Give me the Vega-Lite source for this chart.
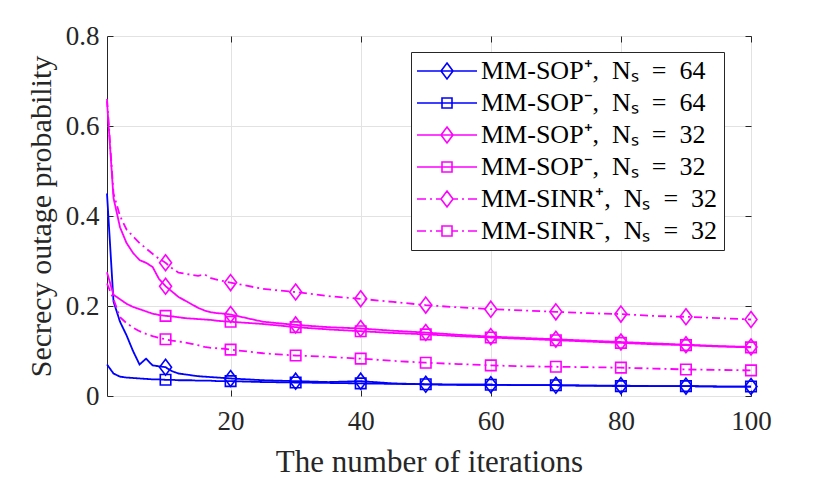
{
  "$schema": "https://vega.github.io/schema/vega-lite/v6.json",
  "width": 644,
  "height": 360,
  "autosize": "none",
  "padding": {"left": 107, "top": 36, "right": 79, "bottom": 83},
  "config": {
    "view": {"stroke": "#262626", "strokeWidth": 1},
    "font": "Liberation Serif",
    "axis": {
      "labelFont": "Liberation Serif",
      "labelFontSize": 27,
      "labelColor": "#262626",
      "titleFont": "Liberation Serif",
      "titleFontSize": 30,
      "titleFontWeight": "normal",
      "titleColor": "#262626",
      "gridColor": "#e2e2e2",
      "tickColor": "#262626",
      "tickSize": -6,
      "domain": false
    },
    "legend": {
      "orient": "none", "legendX": 304, "legendY": 16, "title": null,
      "labelFont": "Liberation Serif", "labelFontSize": 26, "labelColor": "black", "labelLimit": 400, "labelOffset": 38,
      "symbolSize": 400, "symbolStrokeWidth": 1.6, "rowPadding": 6, "padding": 6,
      "strokeColor": "#262626", "fillColor": "white"
    }
  },
  "data": {
    "values": [
      {"s":"SOP+64","i":1,"v":0.45},{"s":"SOP+64","i":2,"v":0.21},{"s":"SOP+64","i":3,"v":0.165},{"s":"SOP+64","i":4,"v":0.135},{"s":"SOP+64","i":5,"v":0.1},{"s":"SOP+64","i":6,"v":0.07},{"s":"SOP+64","i":7,"v":0.083},{"s":"SOP+64","i":8,"v":0.068},{"s":"SOP+64","i":9,"v":0.066},{"s":"SOP+64","i":10,"v":0.064},{"s":"SOP+64","i":11,"v":0.055},{"s":"SOP+64","i":12,"v":0.05},{"s":"SOP+64","i":13,"v":0.048},{"s":"SOP+64","i":14,"v":0.046},{"s":"SOP+64","i":15,"v":0.044},{"s":"SOP+64","i":16,"v":0.043},{"s":"SOP+64","i":17,"v":0.042},{"s":"SOP+64","i":18,"v":0.041},{"s":"SOP+64","i":19,"v":0.04},{"s":"SOP+64","i":20,"v":0.039},{"s":"SOP+64","i":25,"v":0.035},{"s":"SOP+64","i":30,"v":0.033},{"s":"SOP+64","i":35,"v":0.031},{"s":"SOP+64","i":40,"v":0.033},{"s":"SOP+64","i":45,"v":0.028},{"s":"SOP+64","i":50,"v":0.026},{"s":"SOP+64","i":55,"v":0.025},{"s":"SOP+64","i":60,"v":0.025},{"s":"SOP+64","i":65,"v":0.024},{"s":"SOP+64","i":70,"v":0.024},{"s":"SOP+64","i":75,"v":0.023},{"s":"SOP+64","i":80,"v":0.023},{"s":"SOP+64","i":85,"v":0.022},{"s":"SOP+64","i":90,"v":0.022},{"s":"SOP+64","i":95,"v":0.021},{"s":"SOP+64","i":100,"v":0.021},
      {"s":"SOP-64","i":1,"v":0.07},{"s":"SOP-64","i":2,"v":0.05},{"s":"SOP-64","i":3,"v":0.043},{"s":"SOP-64","i":4,"v":0.041},{"s":"SOP-64","i":5,"v":0.04},{"s":"SOP-64","i":6,"v":0.039},{"s":"SOP-64","i":7,"v":0.038},{"s":"SOP-64","i":8,"v":0.037},{"s":"SOP-64","i":9,"v":0.037},{"s":"SOP-64","i":10,"v":0.036},{"s":"SOP-64","i":11,"v":0.036},{"s":"SOP-64","i":12,"v":0.035},{"s":"SOP-64","i":13,"v":0.035},{"s":"SOP-64","i":14,"v":0.035},{"s":"SOP-64","i":15,"v":0.034},{"s":"SOP-64","i":16,"v":0.034},{"s":"SOP-64","i":17,"v":0.034},{"s":"SOP-64","i":18,"v":0.033},{"s":"SOP-64","i":19,"v":0.033},{"s":"SOP-64","i":20,"v":0.033},{"s":"SOP-64","i":25,"v":0.031},{"s":"SOP-64","i":30,"v":0.03},{"s":"SOP-64","i":35,"v":0.029},{"s":"SOP-64","i":40,"v":0.028},{"s":"SOP-64","i":45,"v":0.027},{"s":"SOP-64","i":50,"v":0.026},{"s":"SOP-64","i":55,"v":0.025},{"s":"SOP-64","i":60,"v":0.025},{"s":"SOP-64","i":65,"v":0.024},{"s":"SOP-64","i":70,"v":0.024},{"s":"SOP-64","i":75,"v":0.023},{"s":"SOP-64","i":80,"v":0.022},{"s":"SOP-64","i":85,"v":0.022},{"s":"SOP-64","i":90,"v":0.022},{"s":"SOP-64","i":95,"v":0.021},{"s":"SOP-64","i":100,"v":0.021},
      {"s":"SOP+32","i":1,"v":0.655},{"s":"SOP+32","i":2,"v":0.44},{"s":"SOP+32","i":3,"v":0.375},{"s":"SOP+32","i":4,"v":0.34},{"s":"SOP+32","i":5,"v":0.318},{"s":"SOP+32","i":6,"v":0.302},{"s":"SOP+32","i":7,"v":0.296},{"s":"SOP+32","i":8,"v":0.287},{"s":"SOP+32","i":9,"v":0.26},{"s":"SOP+32","i":10,"v":0.244},{"s":"SOP+32","i":11,"v":0.232},{"s":"SOP+32","i":12,"v":0.22},{"s":"SOP+32","i":13,"v":0.212},{"s":"SOP+32","i":14,"v":0.204},{"s":"SOP+32","i":15,"v":0.196},{"s":"SOP+32","i":16,"v":0.19},{"s":"SOP+32","i":17,"v":0.186},{"s":"SOP+32","i":18,"v":0.184},{"s":"SOP+32","i":19,"v":0.183},{"s":"SOP+32","i":20,"v":0.181},{"s":"SOP+32","i":25,"v":0.165},{"s":"SOP+32","i":30,"v":0.158},{"s":"SOP+32","i":35,"v":0.153},{"s":"SOP+32","i":40,"v":0.15},{"s":"SOP+32","i":45,"v":0.145},{"s":"SOP+32","i":50,"v":0.141},{"s":"SOP+32","i":55,"v":0.136},{"s":"SOP+32","i":60,"v":0.132},{"s":"SOP+32","i":65,"v":0.129},{"s":"SOP+32","i":70,"v":0.126},{"s":"SOP+32","i":75,"v":0.123},{"s":"SOP+32","i":80,"v":0.12},{"s":"SOP+32","i":85,"v":0.117},{"s":"SOP+32","i":90,"v":0.114},{"s":"SOP+32","i":95,"v":0.111},{"s":"SOP+32","i":100,"v":0.109},
      {"s":"SOP-32","i":1,"v":0.275},{"s":"SOP-32","i":2,"v":0.225},{"s":"SOP-32","i":3,"v":0.215},{"s":"SOP-32","i":4,"v":0.205},{"s":"SOP-32","i":5,"v":0.198},{"s":"SOP-32","i":6,"v":0.193},{"s":"SOP-32","i":7,"v":0.188},{"s":"SOP-32","i":8,"v":0.183},{"s":"SOP-32","i":9,"v":0.18},{"s":"SOP-32","i":10,"v":0.178},{"s":"SOP-32","i":11,"v":0.177},{"s":"SOP-32","i":12,"v":0.175},{"s":"SOP-32","i":13,"v":0.173},{"s":"SOP-32","i":14,"v":0.172},{"s":"SOP-32","i":15,"v":0.171},{"s":"SOP-32","i":16,"v":0.17},{"s":"SOP-32","i":17,"v":0.169},{"s":"SOP-32","i":18,"v":0.167},{"s":"SOP-32","i":19,"v":0.166},{"s":"SOP-32","i":20,"v":0.165},{"s":"SOP-32","i":25,"v":0.16},{"s":"SOP-32","i":30,"v":0.153},{"s":"SOP-32","i":35,"v":0.148},{"s":"SOP-32","i":40,"v":0.144},{"s":"SOP-32","i":45,"v":0.14},{"s":"SOP-32","i":50,"v":0.137},{"s":"SOP-32","i":55,"v":0.133},{"s":"SOP-32","i":60,"v":0.13},{"s":"SOP-32","i":65,"v":0.127},{"s":"SOP-32","i":70,"v":0.124},{"s":"SOP-32","i":75,"v":0.121},{"s":"SOP-32","i":80,"v":0.118},{"s":"SOP-32","i":85,"v":0.115},{"s":"SOP-32","i":90,"v":0.113},{"s":"SOP-32","i":95,"v":0.11},{"s":"SOP-32","i":100,"v":0.108},
      {"s":"SINR+32","i":1,"v":0.66},{"s":"SINR+32","i":2,"v":0.45},{"s":"SINR+32","i":3,"v":0.4},{"s":"SINR+32","i":4,"v":0.37},{"s":"SINR+32","i":5,"v":0.355},{"s":"SINR+32","i":6,"v":0.34},{"s":"SINR+32","i":7,"v":0.328},{"s":"SINR+32","i":8,"v":0.316},{"s":"SINR+32","i":9,"v":0.305},{"s":"SINR+32","i":10,"v":0.296},{"s":"SINR+32","i":11,"v":0.284},{"s":"SINR+32","i":12,"v":0.274},{"s":"SINR+32","i":13,"v":0.272},{"s":"SINR+32","i":14,"v":0.269},{"s":"SINR+32","i":15,"v":0.267},{"s":"SINR+32","i":16,"v":0.27},{"s":"SINR+32","i":17,"v":0.262},{"s":"SINR+32","i":18,"v":0.258},{"s":"SINR+32","i":19,"v":0.255},{"s":"SINR+32","i":20,"v":0.252},{"s":"SINR+32","i":25,"v":0.238},{"s":"SINR+32","i":30,"v":0.231},{"s":"SINR+32","i":35,"v":0.222},{"s":"SINR+32","i":40,"v":0.216},{"s":"SINR+32","i":45,"v":0.209},{"s":"SINR+32","i":50,"v":0.202},{"s":"SINR+32","i":55,"v":0.197},{"s":"SINR+32","i":60,"v":0.193},{"s":"SINR+32","i":65,"v":0.19},{"s":"SINR+32","i":70,"v":0.187},{"s":"SINR+32","i":75,"v":0.184},{"s":"SINR+32","i":80,"v":0.182},{"s":"SINR+32","i":85,"v":0.178},{"s":"SINR+32","i":90,"v":0.176},{"s":"SINR+32","i":95,"v":0.173},{"s":"SINR+32","i":100,"v":0.17},
      {"s":"SINR-32","i":1,"v":0.25},{"s":"SINR-32","i":2,"v":0.215},{"s":"SINR-32","i":3,"v":0.175},{"s":"SINR-32","i":4,"v":0.162},{"s":"SINR-32","i":5,"v":0.152},{"s":"SINR-32","i":6,"v":0.144},{"s":"SINR-32","i":7,"v":0.138},{"s":"SINR-32","i":8,"v":0.133},{"s":"SINR-32","i":9,"v":0.129},{"s":"SINR-32","i":10,"v":0.126},{"s":"SINR-32","i":11,"v":0.123},{"s":"SINR-32","i":12,"v":0.121},{"s":"SINR-32","i":13,"v":0.119},{"s":"SINR-32","i":14,"v":0.116},{"s":"SINR-32","i":15,"v":0.113},{"s":"SINR-32","i":16,"v":0.109},{"s":"SINR-32","i":17,"v":0.107},{"s":"SINR-32","i":18,"v":0.106},{"s":"SINR-32","i":19,"v":0.105},{"s":"SINR-32","i":20,"v":0.103},{"s":"SINR-32","i":25,"v":0.095},{"s":"SINR-32","i":30,"v":0.09},{"s":"SINR-32","i":35,"v":0.087},{"s":"SINR-32","i":40,"v":0.083},{"s":"SINR-32","i":45,"v":0.078},{"s":"SINR-32","i":50,"v":0.074},{"s":"SINR-32","i":55,"v":0.071},{"s":"SINR-32","i":60,"v":0.068},{"s":"SINR-32","i":65,"v":0.066},{"s":"SINR-32","i":70,"v":0.065},{"s":"SINR-32","i":75,"v":0.064},{"s":"SINR-32","i":80,"v":0.063},{"s":"SINR-32","i":85,"v":0.061},{"s":"SINR-32","i":90,"v":0.059},{"s":"SINR-32","i":95,"v":0.058},{"s":"SINR-32","i":100,"v":0.057}
    ]
  },
  "resolve": {"axis": {"x": "independent", "y": "independent"}},
  "layer": [
    {
      "transform": [{"filter": "false"}],
      "mark": {"type": "point", "filled": false, "strokeWidth": 1.6, "opacity": 1},
      "encoding": {
        "color": {
          "field": "s", "type": "nominal",
          "scale": {"domain": ["SOP+64", "SOP-64", "SOP+32", "SOP-32", "SINR+32", "SINR-32"], "range": ["#0000ff", "#0000ff", "#ff00ff", "#ff00ff", "#ff00ff", "#ff00ff"]},
          "legend": {
            "labelExpr": "datum.value == 'SOP+64' ? 'MM-SOP⁺,\u2002Nₛ\u2002=\u200264' : datum.value == 'SOP-64' ? 'MM-SOP⁻,\u2002Nₛ\u2002=\u200264' : datum.value == 'SOP+32' ? 'MM-SOP⁺,\u2002Nₛ\u2002=\u200232' : datum.value == 'SOP-32' ? 'MM-SOP⁻,\u2002Nₛ\u2002=\u200232' : datum.value == 'SINR+32' ? 'MM-SINR⁺,\u2002Nₛ\u2002=\u200232' : 'MM-SINR⁻,\u2002Nₛ\u2002=\u200232'"
          }
        },
        "shape": {
          "field": "s", "type": "nominal",
          "scale": {
            "domain": ["SOP+64", "SOP-64", "SOP+32", "SOP-32", "SINR+32", "SINR-32"],
            "range": [
              "M-1.3,0L4.7,0M1.7,-0.8L2.3,0L1.7,0.8L1.1,0Z",
              "M-1.3,0L4.7,0M1.2,-0.5L2.2,-0.5L2.2,0.5L1.2,0.5Z",
              "M-1.3,0L4.7,0M1.7,-0.8L2.3,0L1.7,0.8L1.1,0Z",
              "M-1.3,0L4.7,0M1.2,-0.5L2.2,-0.5L2.2,0.5L1.2,0.5Z",
              "M-1.3,0L-0.4,0M0,0L0.2,0M0.6,0L1.1,0M2.3,0L2.8,0M3.2,0L3.4,0M3.8,0L4.7,0M1.7,-0.8L2.3,0L1.7,0.8L1.1,0Z",
              "M-1.3,0L-0.4,0M0,0L0.2,0M0.6,0L1.2,0M2.2,0L2.8,0M3.2,0L3.4,0M3.8,0L4.7,0M1.2,-0.5L2.2,-0.5L2.2,0.5L1.2,0.5Z"
            ]
          },
          "legend": {
            "labelExpr": "datum.value == 'SOP+64' ? 'MM-SOP⁺,\u2002Nₛ\u2002=\u200264' : datum.value == 'SOP-64' ? 'MM-SOP⁻,\u2002Nₛ\u2002=\u200264' : datum.value == 'SOP+32' ? 'MM-SOP⁺,\u2002Nₛ\u2002=\u200232' : datum.value == 'SOP-32' ? 'MM-SOP⁻,\u2002Nₛ\u2002=\u200232' : datum.value == 'SINR+32' ? 'MM-SINR⁺,\u2002Nₛ\u2002=\u200232' : 'MM-SINR⁻,\u2002Nₛ\u2002=\u200232'"
          }
        }
      }
    },
    {
      "mark": {"type": "line", "strokeWidth": 1.8},
      "encoding": {
        "x": {
          "field": "i", "type": "quantitative",
          "scale": {"domain": [1, 100], "nice": false, "zero": false},
          "axis": {"values": [20, 40, 60, 80, 100], "title": "The number of iterations", "titleFontSize": 31, "labelPadding": 18, "titlePadding": 13, "labelFlush": false}
        },
        "y": {
          "field": "v", "type": "quantitative",
          "scale": {"domain": [0, 0.8], "nice": false},
          "axis": {"values": [0, 0.2, 0.4, 0.6, 0.8], "format": "~g", "title": "Secrecy outage probability", "labelPadding": 14, "titlePadding": 9}
        },
        "color": {"field": "s", "type": "nominal"},
        "strokeDash": {
          "condition": {"test": "indexof(datum.s, 'SINR') >= 0", "value": [8, 4, 2, 4]},
          "value": [1, 0]
        },
        "order": {"field": "i", "type": "quantitative"}
      }
    },
    {
      "transform": [{"filter": "datum.i % 10 == 0 && indexof(datum.s, '+') >= 0"}],
      "mark": {"type": "point", "shape": "M0,-1.33L1,0L0,1.33L-1,0Z", "filled": false, "size": 144, "strokeWidth": 1.6, "opacity": 1},
      "encoding": {
        "x": {"field": "i", "type": "quantitative", "axis": null},
        "y": {"field": "v", "type": "quantitative", "axis": null},
        "color": {"field": "s", "type": "nominal"}
      }
    },
    {
      "transform": [{"filter": "datum.i % 10 == 0 && indexof(datum.s, '-') >= 0"}],
      "mark": {"type": "point", "shape": "M-0.875,-0.875L0.875,-0.875L0.875,0.875L-0.875,0.875Z", "filled": false, "size": 144, "strokeWidth": 1.6, "opacity": 1},
      "encoding": {
        "x": {"field": "i", "type": "quantitative", "axis": null},
        "y": {"field": "v", "type": "quantitative", "axis": null},
        "color": {"field": "s", "type": "nominal"}
      }
    },
    {
      "mark": {"type": "point", "opacity": 0},
      "encoding": {
        "x": {"field": "i", "type": "quantitative", "axis": {"orient": "top", "values": [20, 40, 60, 80, 100], "labels": false, "title": null, "grid": false}},
        "y": {"field": "v", "type": "quantitative", "axis": {"orient": "right", "values": [0, 0.2, 0.4, 0.6, 0.8], "labels": false, "title": null, "grid": false}}
      }
    }
  ]
}
